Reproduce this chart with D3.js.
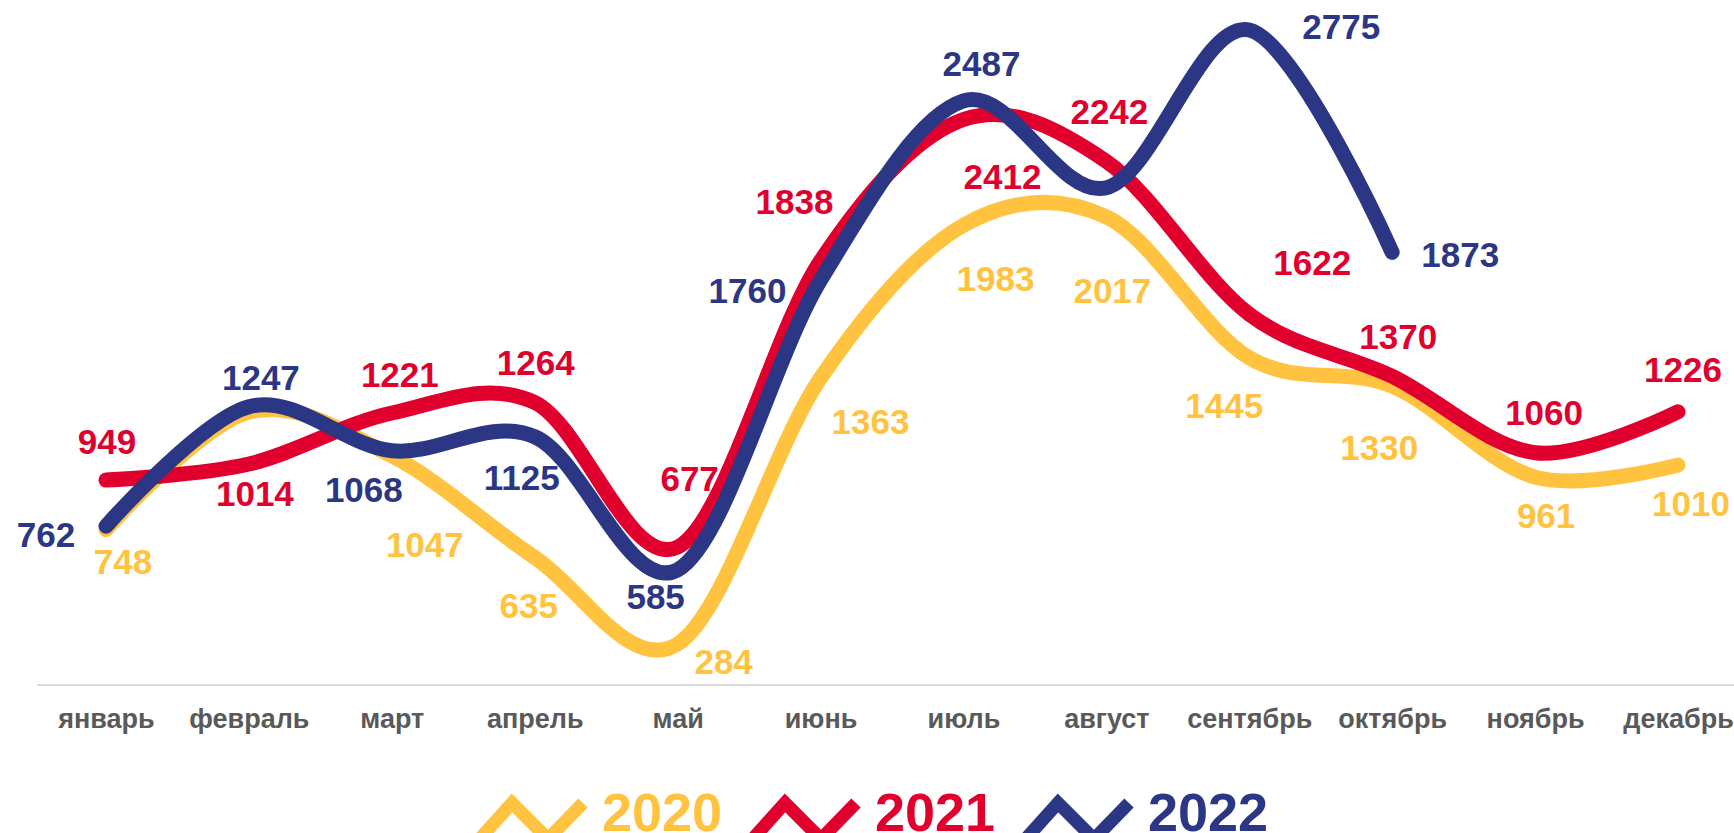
<!DOCTYPE html>
<html>
<head>
<meta charset="utf-8">
<script src="https://cdn.jsdelivr.net/npm/d3@7"></script>
<style>
  html, body { margin: 0; padding: 0; background: #fff; }
  svg { display: block; font-family: "Liberation Sans", Arial, sans-serif; }
</style>
</head>
<body>
<svg id="chart" width="1734" height="833"></svg>
<script>
const months = ["январь", "февраль", "март", "апрель", "май", "июнь", "июль", "август", "сентябрь", "октябрь", "ноябрь", "декабрь"];
const years = ["2020", "2021", "2022"];
const colors = ["#ffc340", "#e1002d", "#2b3684"];

const values2020 = [748, 1225, 1047, 635, 284, 1363, 1983, 2017, 1445, 1330, 961, 1010];
const values2021 = [949, 1014, 1221, 1264, 677, 1838, 2412, 2242, 1622, 1370, 1060, 1226];
const values2022 = [762, 1247, 1068, 1125, 585, 1760, 2487, 2135, 2775, 1873];

// label nudges (px) relative to each point, null = label not shown
const labelOffsets2020 = [[17, 32], null, [33, 88], [-6, 48], [46, 17], [50, 43], [32, 53], [6, 74], [-25, 48], [-13, 61], [11, 38], [13, 38]];
const labelOffsets2021 = [[1, -39], [6, 29], [8, -39], [1, -40], [12, -69], [-26, -60], [39, 57], [3, -50], [63, -52], [6, -40], [9, -40], [5, -42]];
const labelOffsets2022 = [[-60, 8], [12, -29], [-28, 39], [-13, 41], [-22, 27], [-73, 10], [18, -38], null, [92, -4], [68, 2]];

const svg = d3.select("#chart");
const width = +svg.attr("width");

const series = [
  { year: years[0], color: colors[0], values: values2020, offsets: labelOffsets2020 },
  { year: years[1], color: colors[1], values: values2021, offsets: labelOffsets2021 },
  { year: years[2], color: colors[2], values: values2022, offsets: labelOffsets2022 }
];

const x = d3.scalePoint().domain(months).range([106, 1678]);
const y = d3.scaleLinear().domain([0, 2775]).range([714, 30]);
const baseY = 685;

// baseline
svg.append("line")
  .attr("x1", 37)
  .attr("x2", width)
  .attr("y1", baseY)
  .attr("y2", baseY)
  .attr("stroke", "#d9d9d9")
  .attr("stroke-width", 2);

// month labels
const xAxis = svg.append("g")
  .attr("transform", `translate(0,${baseY})`)
  .call(d3.axisBottom(x).tickSize(0).tickPadding(24));
xAxis.select(".domain").remove();
xAxis.selectAll("text")
  .attr("font-family", "\"Liberation Sans\", Arial, sans-serif")
  .attr("font-size", 27)
  .attr("font-weight", "bold")
  .attr("fill", "#595959");

const line = d3.line()
  .x((d, i) => x(months[i]))
  .y((d) => y(d))
  .curve(d3.curveCardinal.tension(0));

svg.append("g")
  .selectAll("path")
  .data(series)
  .join("path")
  .attr("fill", "none")
  .attr("stroke", (s) => s.color)
  .attr("stroke-width", 15)
  .attr("stroke-linecap", "round")
  .attr("stroke-linejoin", "round")
  .attr("d", (s) => line(s.values));

// value labels
series.forEach((s) => {
  const pts = s.values
    .map((v, i) => ({ v, i, off: s.offsets[i] }))
    .filter((d) => d.off);
  svg.append("g")
    .attr("fill", s.color)
    .attr("font-size", 35)
    .attr("font-weight", "bold")
    .attr("text-anchor", "middle")
    .selectAll("text")
    .data(pts)
    .join("text")
    .attr("x", (d) => x(months[d.i]) + d.off[0])
    .attr("y", (d) => y(d.v) + d.off[1])
    .attr("dy", "0.36em")
    .text((d) => d.v);
});

// legend
const itemStep = 273;
const legendX = 472;
const legend = svg.append("g")
  .attr("transform", `translate(${legendX},0)`)
  .selectAll("g")
  .data(series)
  .join("g")
  .attr("transform", (s, i) => `translate(${i * itemStep},0)`);

legend.append("polyline")
  .attr("points", "4,843 40,803 76,839 111,803")
  .attr("fill", "none")
  .attr("stroke", (s) => s.color)
  .attr("stroke-width", 13)
  .attr("stroke-linejoin", "miter");

legend.append("text")
  .attr("x", 130)
  .attr("y", 831)
  .attr("fill", (s) => s.color)
  .attr("font-size", 54)
  .attr("font-weight", "bold")
  .text((s) => s.year);
</script>
</body>
</html>
